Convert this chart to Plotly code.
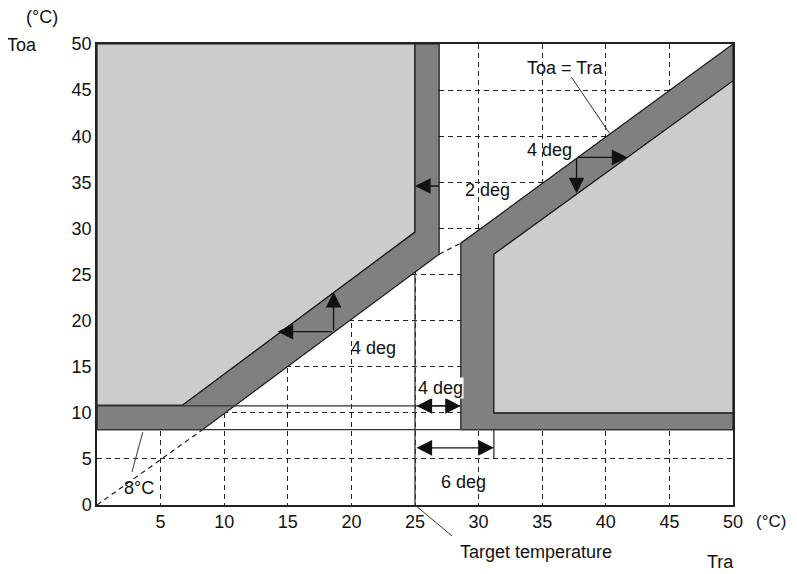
import plotly.graph_objects as go

# ---- data ----
x_ticks = [5, 10, 15, 20, 25, 30, 35, 40, 45, 50]
y_ticks = [0, 5, 10, 15, 20, 25, 30, 35, 40, 45, 50]

# left region
left_light_x = [0, 6.7, 25, 25, 0]
left_light_y = [10.8, 10.8, 29.6, 50, 50]
left_dark_x = [0, 8.3, 26.9, 26.9, 25, 25, 6.7, 0]
left_dark_y = [8.17, 8.17, 27.2, 50, 50, 29.6, 10.8, 10.8]

# right region
right_dark_x = [28.6, 28.6, 50, 50, 31.2, 31.2, 50, 50]
right_dark_y = [8.17, 28.4, 50, 46, 27.2, 10.0, 10.0, 8.17]
right_light_x = [31.2, 31.2, 50, 50]
right_light_y = [10.0, 27.2, 46, 10.0]

lower_limit = 8.17       # 8°C line
band_top = 10.75         # top of left horizontal band
target = 25              # target temperature
right_inner = 28.6
right_outer = 31.2

# Toa = Tra dashed segments
diag1_x = [0, 8.3]
diag1_y = [0, 8.17]
diag2_x = [26.9, 28.6]
diag2_y = [27.2, 28.4]

LIGHT = "#cccccc"
DARK = "#808080"
EDGE = "#1a1a1a"
FONT = "Liberation Sans, Arial, Helvetica, sans-serif"
FS = 18

fig = go.Figure()

for xs, ys, col in [(left_light_x, left_light_y, LIGHT), (left_dark_x, left_dark_y, DARK),
                    (right_dark_x, right_dark_y, DARK), (right_light_x, right_light_y, LIGHT)]:
    fig.add_trace(go.Scatter(x=xs + [xs[0]], y=ys + [ys[0]], mode="lines", fill="toself",
                             fillcolor=col, line=dict(color=EDGE, width=1.2),
                             hoverinfo="skip", showlegend=False))

for xs, ys in [(diag1_x, diag1_y), (diag2_x, diag2_y)]:
    fig.add_trace(go.Scatter(x=xs, y=ys, mode="lines", line=dict(color=EDGE, width=1.2, dash="5px,4px"),
                             hoverinfo="skip", showlegend=False))

shapes = []
def seg(x0, y0, x1, y1, ref="x", width=1.3, color="#333"):
    shapes.append(dict(type="line", x0=x0, y0=y0, x1=x1, y1=y1,
                       xref="x" if ref == "x" else "paper", yref="y" if ref == "x" else "paper",
                       line=dict(color=color, width=width)))

seg(0, lower_limit, 50, lower_limit)
seg(0, band_top, right_inner, band_top)
seg(target, 25.2, target, 0)
seg(right_outer, lower_limit, right_outer, 5.0)
# leaders
seg(37.3, 46.4, 40.3, 40.3, width=1)
seg(2.75, 3.6, 3.6, 7.9, width=1)
def px(xv): return xv / 50.0
seg(px(target), 0, px(target) + 0.058, -0.067, ref="paper", width=1)

ann = []
def arrow(x, y, ax, ay, double=False):
    d = dict(x=x, y=y, ax=ax, ay=ay, xref="x", yref="y", axref="x", ayref="y", text="",
             showarrow=True, arrowhead=2, arrowsize=2.4, arrowwidth=1.3, arrowcolor="#111")
    if double:
        d.update(arrowside="end+start", startarrowhead=2, startarrowsize=2.4)
    ann.append(d)

arrow(14.2, 18.8, 18.6, 18.8)
arrow(18.6, 23.1, 18.6, 18.8)
arrow(41.7, 37.7, 37.7, 37.7)
arrow(37.7, 33.8, 37.7, 37.7)
arrow(25.0, 34.6, 27.0, 34.6)
arrow(right_inner, band_top, target, band_top, double=True)
arrow(right_outer, 6.2, target, 6.2, double=True)

def text(t, x, y, ref="x", bg=None, xanchor="center", size=FS):
    d = dict(text=t, x=x, y=y, xref="x" if ref == "x" else "paper", yref="y" if ref == "x" else "paper",
             showarrow=False, font=dict(family=FONT, size=size, color="#111"),
             xanchor=xanchor, yanchor="middle")
    if bg:
        d.update(bgcolor=bg, borderpad=0)
    ann.append(d)

text("Toa = Tra", 36.8, 47.4)
text("4 deg", 35.6, 38.5)
text("2 deg", 30.7, 34.2)
text("4 deg", 21.7, 17.0)
text("4 deg", 27.0, 12.7, bg="white")
text("6 deg", 28.8, 2.5)
text("8°C", 3.3, 1.8)
text("Target temperature", 0.691, -0.102, ref="paper")
text("Tra", 0.98, -0.124, ref="paper")
text("(°C)", 1.086, -0.035, ref="paper", xanchor="right", size=17)
text("(°C)", -0.086, 1.059, ref="paper")
text("Toa", -0.118, 0.998, ref="paper")

# the page body adds an 8px offset, so the figure is 8px smaller on each side used
fig.update_layout(
    width=789, height=566,
    margin=dict(l=89, r=64, t=36, b=69),
    paper_bgcolor="white", plot_bgcolor="white",
    shapes=shapes, annotations=ann,
    font=dict(family=FONT, size=FS, color="#111"),
    xaxis=dict(range=[0, 50], tickvals=x_ticks, showgrid=True, gridcolor="#222", griddash="5px,4px",
               gridwidth=1, zeroline=False, showline=True, mirror=True, linecolor="#222", linewidth=1.5,
               ticks="", fixedrange=True),
    yaxis=dict(range=[0, 50], tickvals=y_ticks, showgrid=True, gridcolor="#222", griddash="5px,4px",
               gridwidth=1, zeroline=False, showline=True, mirror=True, linecolor="#222", linewidth=1.5,
               ticks="", fixedrange=True),
)

fig.write_html("out.html")
